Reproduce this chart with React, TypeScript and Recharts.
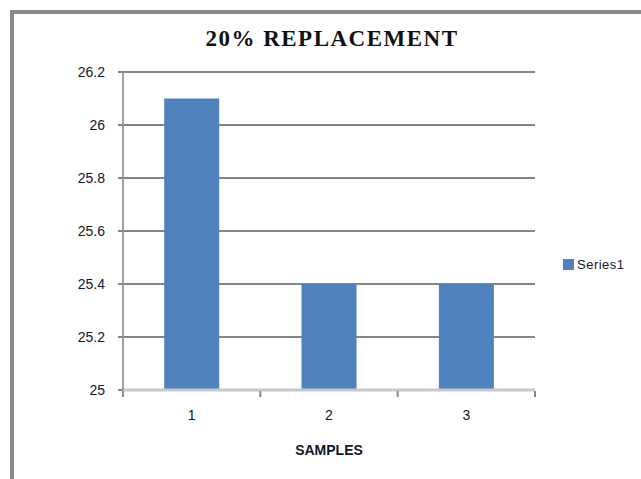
import { BarChart, Bar, XAxis, YAxis, CartesianGrid } from 'recharts';

const samples = ['1', '2', '3'];
const series1 = [26.1, 25.4, 25.4];
const yTicks = [25, 25.2, 25.4, 25.6, 25.8, 26, 26.2];
const edgeTicks = [0, 1, 2, 3];

const data = samples.map((s, i) => ({ sample: s, Series1: series1[i], edge: i }));

const labelFont = '"Liberation Sans", Arial, sans-serif';
const barColor = '#4f81bd';
const textColor = '#15152a';

export default function App() {
  return (
    <div style={{ position: 'absolute', left: 0, top: 0, width: 641, height: 479, background: '#fff', overflow: 'hidden' }}>
      {/* outer frame, runs off the right and bottom edges */}
      <div
        style={{
          position: 'absolute',
          left: 10,
          top: 10,
          width: 700,
          height: 520,
          border: '4px solid #8a8a8a',
          boxSizing: 'border-box',
        }}
      />
      <div
        style={{
          position: 'absolute',
          left: 0,
          width: 664,
          top: 26,
          textAlign: 'center',
          fontFamily: '"Liberation Serif", "Times New Roman", serif',
          fontWeight: 'bold',
          fontSize: 23,
          letterSpacing: 1.5,
          lineHeight: '26px',
          color: '#111',
        }}
      >
        20% REPLACEMENT
      </div>
      <BarChart
        width={641}
        height={479}
        data={data}
        margin={{ top: 72, right: 106, left: 63, bottom: 87 }}
        barCategoryGap="30%"
        style={{ position: 'absolute', left: 0, top: 0 }}
      >
        <CartesianGrid vertical={false} stroke="#858585" strokeWidth={2} />
        <XAxis
          dataKey="sample"
          height={1}
          axisLine={{ stroke: '#c8c8c8', strokeWidth: 3 }}
          tickLine={false}
          tick={{ fill: textColor, fontSize: 14, fontFamily: labelFont }}
          tickMargin={14}
          label={{
            value: 'SAMPLES',
            position: 'bottom',
            offset: 54,
            fill: textColor,
            fontSize: 14,
            fontWeight: 'bold',
            fontFamily: labelFont,
          }}
        />
        <XAxis
          xAxisId="edges"
          dataKey="edge"
          type="number"
          domain={[0, 3]}
          ticks={edgeTicks}
          allowDataOverflow
          height={1}
          axisLine={false}
          tickLine={{ stroke: '#8a8a8a', strokeWidth: 2 }}
          tickSize={6}
          tickFormatter={() => ''}
        />
        <YAxis
          domain={[25, 26.2]}
          ticks={yTicks}
          interval={0}
          width={60}
          axisLine={{ stroke: '#a0a0a0', strokeWidth: 2 }}
          tickLine={{ stroke: '#858585', strokeWidth: 2 }}
          tickSize={5}
          tickMargin={13}
          tick={{ fill: textColor, fontSize: 14, fontFamily: labelFont }}
          tickFormatter={(v: number) => String(Math.round(v * 10) / 10)}
        />
        <Bar dataKey="Series1" fill={barColor} isAnimationActive={false} />
      </BarChart>
      <div
        style={{
          position: 'absolute',
          left: 563,
          top: 257,
          display: 'flex',
          alignItems: 'center',
          fontFamily: labelFont,
          fontSize: 13,
          letterSpacing: 0.5,
          color: textColor,
        }}
      >
        <span style={{ display: 'inline-block', width: 11, height: 11, background: barColor, marginRight: 3 }} />
        Series1
      </div>
    </div>
  );
}
